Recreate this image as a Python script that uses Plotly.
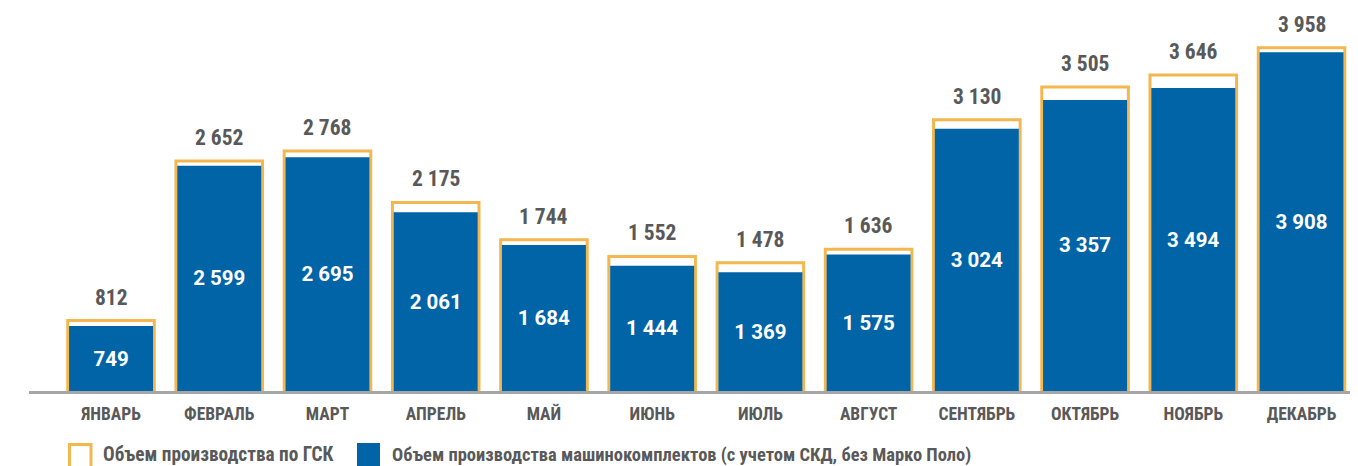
import plotly.graph_objects as go

months = ["ЯНВАРЬ", "ФЕВРАЛЬ", "МАРТ", "АПРЕЛЬ", "МАЙ", "ИЮНЬ", "ИЮЛЬ",
          "АВГУСТ", "СЕНТЯБРЬ", "ОКТЯБРЬ", "НОЯБРЬ", "ДЕКАБРЬ"]
gsk = [812, 2652, 2768, 2175, 1744, 1552, 1478, 1636, 3130, 3505, 3646, 3958]
kits = [749, 2599, 2695, 2061, 1684, 1444, 1369, 1575, 3024, 3357, 3494, 3908]
legend_names = ["Объем производства по ГСК",
                "Объем производства машинокомплектов (с учетом СКД, без Марко Поло)"]

ORANGE = "#F4B74F"
BLUE = "#0064A7"
GRAY_TXT = "#595959"
FONT_C = "Roboto Condensed, Roboto, sans-serif"
FONT_R = "Roboto, sans-serif"


def fmt(v):
    return f"{v:,}".replace(",", " ")


# page has an 8px body margin: figure coords = page coords - 8
OFF = 8
W, H = 1358 - OFF, 466 - OFF
ML, MR, MT, MB = 29 - OFF, 0, 20 - OFF, 466 - 391
PW, PH = W - ML - MR, H - MT - MB

fig = go.Figure()
fig.add_trace(go.Bar(
    x=months, y=gsk, name=legend_names[0], width=0.80,
    marker=dict(color="white", line=dict(color=ORANGE, width=3)),
    hoverinfo="skip", showlegend=False,
))
fig.add_trace(go.Bar(
    x=months, y=kits, name=legend_names[1], width=0.776,
    marker=dict(color=BLUE, line=dict(width=0)),
    text=[fmt(v) for v in kits], textposition="inside",
    insidetextanchor="middle",
    textfont=dict(family=FONT_R, size=20.5, color="white", weight="bold"),
    hoverinfo="skip", showlegend=False,
))

for m, v in zip(months, gsk):
    fig.add_annotation(x=m, y=v, text=fmt(v), showarrow=False,
                       yanchor="bottom", yshift=9,
                       font=dict(family=FONT_C, size=21.5, color=GRAY_TXT, weight="bold"))


# custom legend (page pixel -> paper)
def px_x(px):
    return (px - OFF - ML) / PW


def px_y(py):
    return (MT + PH - (py - OFF)) / PH


fig.add_shape(type="rect", xref="paper", yref="paper",
              x0=px_x(69.5), x1=px_x(91), y0=px_y(444.5), y1=px_y(475),
              line=dict(color=ORANGE, width=3), fillcolor="white")
fig.add_annotation(xref="paper", yref="paper", x=px_x(101), y=px_y(455),
                   xanchor="left", yanchor="middle", showarrow=False,
                   text=legend_names[0],
                   font=dict(family=FONT_C, size=19.3, color=GRAY_TXT, weight="bold"))
fig.add_shape(type="rect", xref="paper", yref="paper",
              x0=px_x(357), x1=px_x(380), y0=px_y(443), y1=px_y(475),
              line=dict(width=0), fillcolor=BLUE)
fig.add_annotation(xref="paper", yref="paper", x=px_x(390), y=px_y(455),
                   xanchor="left", yanchor="middle", showarrow=False,
                   text=legend_names[1],
                   font=dict(family=FONT_C, size=18.5, color=GRAY_TXT, weight="bold"))

fig.update_layout(
    width=W, height=H,
    margin=dict(l=ML, r=MR, t=MT, b=MB),
    barmode="overlay",
    plot_bgcolor="white", paper_bgcolor="white",
    showlegend=False,
    xaxis=dict(
        type="category", range=[-0.758, 11.522],
        showline=True, linecolor="#A6A6A6", linewidth=3,
        showgrid=False, ticks="", zeroline=False,
        tickfont=dict(family=FONT_C, size=17.5, color=GRAY_TXT, weight="bold"),
        ticklabelstandoff=5,
    ),
    yaxis=dict(range=[0, PH / 0.0867], visible=False, showgrid=False),
)

fig.write_html("out.html")
